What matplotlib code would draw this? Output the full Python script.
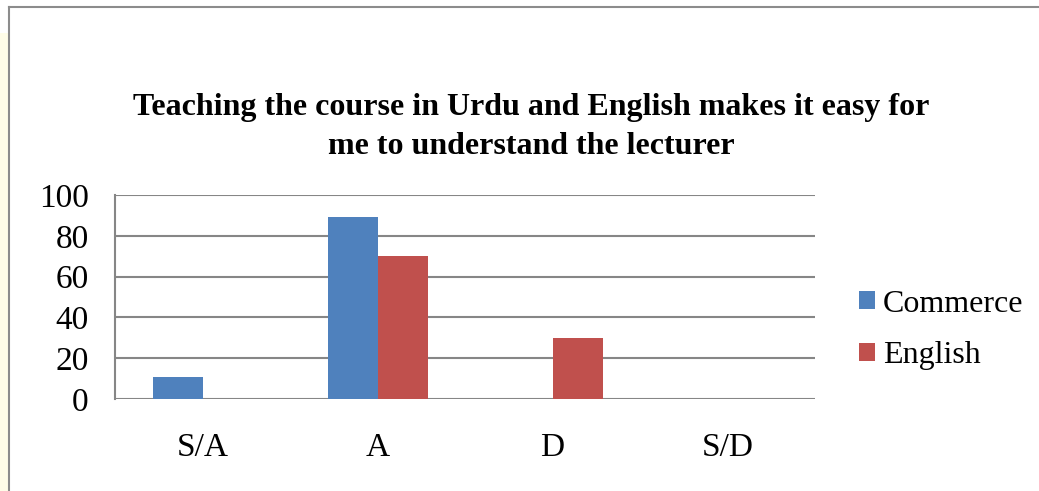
import numpy as np
import matplotlib.pyplot as plt
from matplotlib.patches import Rectangle
from matplotlib.lines import Line2D

categories = ["S/A", "A", "D", "S/D"]
commerce = [11, 89, 0, 0]
english = [0, 70, 30, 0]
yticks = [0, 20, 40, 60, 80, 100]

W, H = 1039, 491
plt.rcParams['font.family'] = ['Liberation Serif', 'DejaVu Serif']

fig = plt.figure(figsize=(W / 100, H / 100), dpi=100)

# page background strip and chart frame
fig.patches.append(Rectangle((0, 0), 8 / W, (H - 33) / H, transform=fig.transFigure,
                             facecolor='#fffde8', edgecolor='none', zorder=0))
fig.add_artist(Line2D([9 / W, 1], [1 - 7 / H, 1 - 7 / H], transform=fig.transFigure,
                      color='#8c8c8c', lw=1.5))
fig.add_artist(Line2D([9 / W, 9 / W], [0, 1 - 7 / H], transform=fig.transFigure,
                      color='#8c8c8c', lw=1.5))

ax = fig.add_axes([115 / W, (H - 399) / H, 700 / W, 204 / H])
x = np.arange(len(categories))
bw = 50 / 175
ax.bar(x - bw / 2, commerce, bw, color='#4f81bd', label='Commerce', zorder=3)
ax.bar(x + bw / 2, english, bw, color='#c0504d', label='English', zorder=3)

ax.set_xlim(-0.5, len(categories) - 0.5)
ax.set_ylim(0, 100)
ax.set_yticks(yticks)
ax.yaxis.grid(True, color='#868686', lw=1.5, zorder=1)
ax.set_xticks(x)
ax.set_xticklabels(categories)
ax.tick_params(axis='both', length=0, labelsize=24)
ax.tick_params(axis='y', pad=19)
ax.tick_params(axis='x', pad=24)
for s in ['top', 'right', 'bottom']:
    ax.spines[s].set_visible(False)
ax.spines['left'].set_color('#868686')
ax.spines['left'].set_linewidth(1.5)

fig.text(531 / W, 1 - 127 / H,
         "Teaching the course in Urdu and English makes it easy for\nme to understand the lecturer",
         ha='center', va='center', fontsize=23, fontweight='bold', linespacing=1.45)

fig.legend(loc='center left', bbox_to_anchor=(859 / W, 1 - 330 / H), frameon=False,
           fontsize=23, handlelength=0.5, handleheight=0.5, handletextpad=0.25,
           labelspacing=0.72, borderaxespad=0, borderpad=0)

fig.savefig('out.png', dpi=100)
